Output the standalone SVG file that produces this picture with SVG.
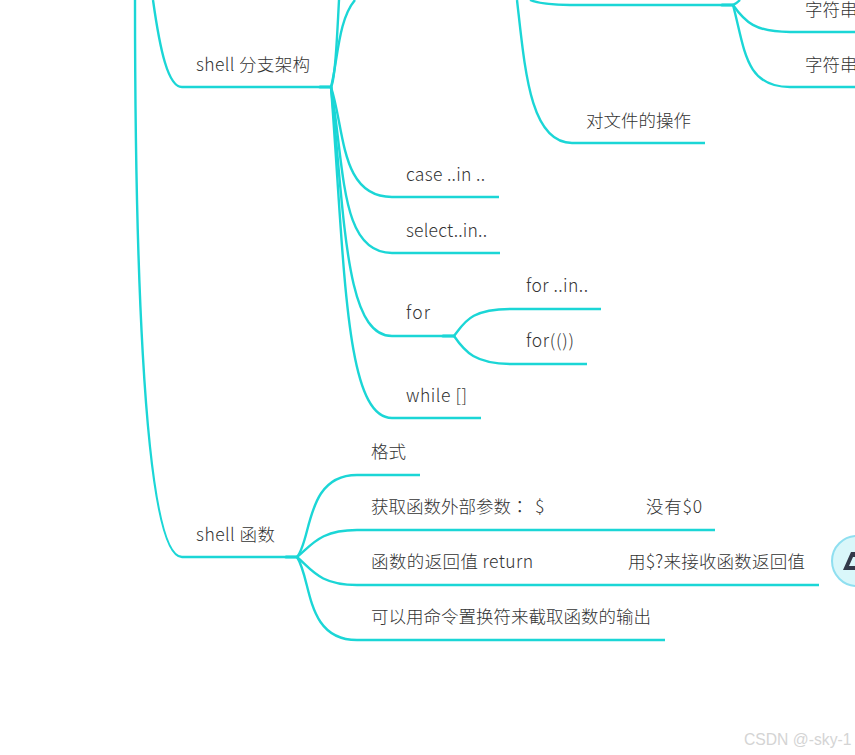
<svg xmlns="http://www.w3.org/2000/svg" width="855" height="755" viewBox="0 0 855 755">
<style>
.c{fill:none;stroke:#1bd6d6;stroke-width:2.4;stroke-linecap:butt}
.j{fill:none;stroke:#1bd6d6;stroke-width:3.2;stroke-linecap:round}
.t{font-family:"Noto Sans CJK SC","Open Sans",sans-serif;font-size:17.5px;font-weight:300;fill:#333}
.w{font-family:"Liberation Sans",Arial,sans-serif;font-size:15.7px;fill:#d4d4d4}
</style>
<rect width="855" height="755" fill="#fff"/>
<g id="connectors">
<path class="c" d="M135 0C135 200 140 557 182 557H297"/>
<path class="c" d="M153 0C160 50 168 87 182 87H331"/>
<path class="c" d="M331 87C335 80 337 40 339 0"/>
<path class="c" d="M331 87C338 60 338 20 355 0"/>
<path class="c" d="M331 87C345 130 340 197 392 197H499"/>
<path class="c" d="M331 87C345 170 340 253 392 253H500"/>
<path class="c" d="M331 87C345 220 345 336 392 336H454"/>
<path class="c" d="M331 87C345 270 345 418 392 418H481"/>
<path class="c" d="M454 336C465 322 470 309 512 309H601"/>
<path class="c" d="M454 336C465 352 475 364 512 364H587"/>
<path class="c" d="M297 557C312 540 305 475 357 475H420"/>
<path class="c" d="M297 557C312 545 320 530 357 530H715"/>
<path class="c" d="M297 557C312 570 320 585 357 585H819"/>
<path class="c" d="M297 557C312 580 305 640 357 640H665"/>
<path class="c" d="M517 0C525 70 530 143 572 143H705"/>
<path class="c" d="M530 0C540 4 555 5 570 5H733"/>
<path class="c" d="M733 5C736 4 738 2 740 0"/>
<path class="c" d="M733 5C745 22 755 32 790 32H855"/>
<path class="c" d="M733 5C745 50 745 87 790 87H855"/>
<path class="j" d="M320 87H331M443 336H454M286 557H297M722 5H733"/>
</g>
<g id="node-branch"><text class="t" x="196" y="71" textLength="114">shell 分支架构</text></g>
<g id="node-func"><text class="t" x="196" y="541" textLength="79">shell 函数</text></g>
<g id="node-str1"><text class="t" x="805" y="16">字符串</text></g>
<g id="node-str2"><text class="t" x="805" y="71">字符串</text></g>
<g id="node-file"><text class="t" x="586" y="127">对文件的操作</text></g>
<g id="node-case"><text class="t" x="406" y="181" textLength="79">case ..in ..</text></g>
<g id="node-select"><text class="t" x="406" y="237" textLength="81">select..in..</text></g>
<g id="node-for"><text class="t" x="406" y="319" textLength="24">for</text></g>
<g id="node-forin"><text class="t" x="526" y="292" textLength="62">for ..in..</text></g>
<g id="node-forp"><text class="t" x="526" y="347" textLength="48">for(())</text></g>
<g id="node-while"><text class="t" x="406" y="402" textLength="61">while []</text></g>
<g id="node-fmt"><text class="t" x="371" y="458">格式</text></g>
<g id="node-args"><text class="t" x="371" y="513">获取函数外部参数<tspan font-family="'Noto Sans CJK TC',sans-serif">：</tspan><tspan x="535">$</tspan></text></g>
<g id="node-no0"><text class="t" x="646" y="513" textLength="56">没有$0</text></g>
<g id="node-ret"><text class="t" x="371" y="568" textLength="162">函数的返回值 return</text></g>
<g id="node-recv"><text class="t" x="628" y="568" textLength="177">用$?来接收函数返回值</text></g>
<g id="node-sub"><text class="t" x="371" y="623">可以用命令置换符来截取函数的输出</text></g>
<g id="icon">
<circle cx="857" cy="561" r="25" fill="#d9f7fa" stroke="#8fdff0" stroke-width="2"/>
<path d="M843 570L851 552H855V557H853L849 566H855V570Z" fill="#333a4a"/>
</g>
<text class="w" x="744" y="745">CSDN @-sky-1</text>
</svg>
